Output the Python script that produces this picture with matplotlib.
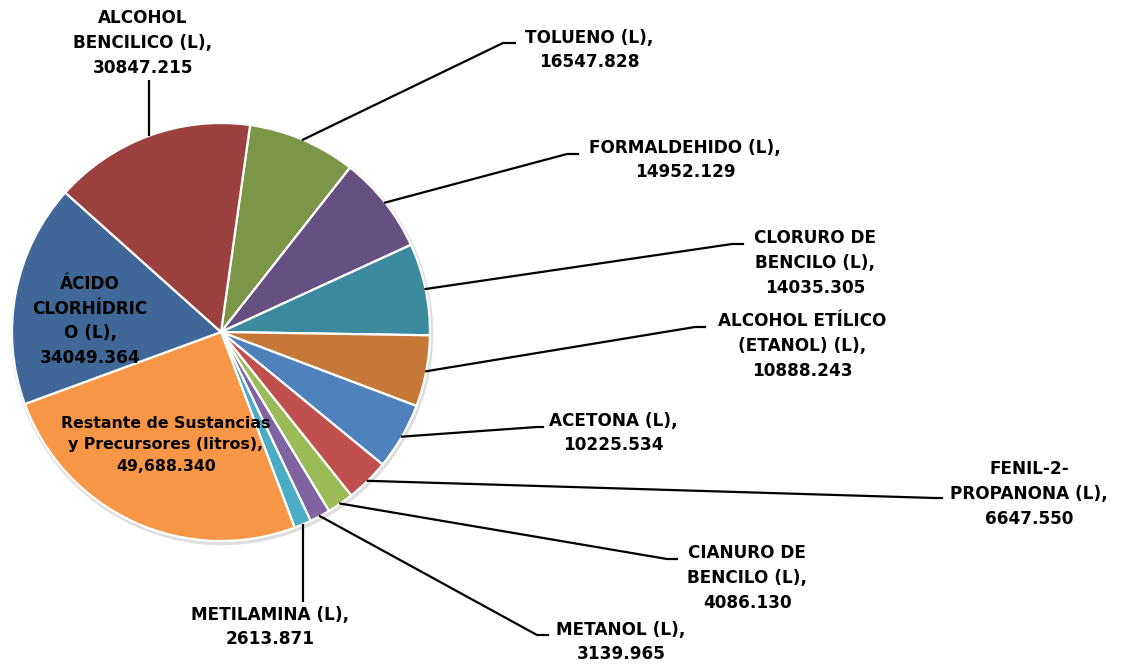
#!/usr/bin/env python3
"""
Pie chart of seized substances and precursors (litres), with outside labels and leader lines.
"""

import matplotlib
matplotlib.use("Agg")
import matplotlib.pyplot as plt
from matplotlib.patches import Circle
import numpy as np

# --- Data ---
names = [
    "TOLUENO (L),",
    "FORMALDEHIDO (L),",
    "CLORURO DE\nBENCILO (L),",
    "ALCOHOL ETÍLICO\n(ETANOL) (L),",
    "ACETONA (L),",
    "FENIL-2-\nPROPANONA (L),",
    "CIANURO DE\nBENCILO (L),",
    "METANOL (L),",
    "METILAMINA (L),",
    "Restante de Sustancias\ny Precursores (litros),",
    "ÁCIDO\nCLORHÍDRIC\nO (L),",
    "ALCOHOL\nBENCILICO (L),",
]
values = [16547.828, 14952.129, 14035.305, 10888.243, 10225.534, 6647.550,
          4086.130, 3139.965, 2613.871, 49688.340, 34049.364, 30847.215]
value_labels = ["16547.828", "14952.129", "14035.305", "10888.243", "10225.534",
                "6647.550", "4086.130", "3139.965", "2613.871", "49,688.340",
                "34049.364", "30847.215"]

colors = ["#7C9647", "#665082", "#3C8A9E", "#C67838", "#4F81BD", "#C0504D",
          "#9BBB59", "#8064A2", "#4BACC6", "#F79646", "#3F6797", "#9A403E"]

# --- Layout (pixel coords, y measured from top) ---
W, H = 1137, 665
CX, CY, R = 221, 332, 209
# label centre, elbow point, end of short horizontal tick (None = no elbow/label inside)
label_pos = [(589, 50), (685, 160), (815, 263), (802, 346), (613, 433), (1029, 494),
             (747, 578), (621, 642), (270, 627), (166, 445), (90, 321), (143, 43)]
elbows = [(503, 43), (567, 154), (732, 244), (695, 327), (537, 427), (935, 498),
          (667, 559), (537, 635), (None, 602), None, None, (None, 80)]
tick_len = [12, 11, 11, 10, 6, 7, 10, 11, 0, 0, 0, 0]


def py(y):
    return H - y


plt.rcParams['font.family'] = ['DejaVu Sans']

fig = plt.figure(figsize=(W / 100, H / 100), dpi=100)
ax = fig.add_axes([0, 0, 1, 1])

# faint shadow behind the pie
ax.add_patch(Circle((CX + 1, py(CY) - 2), R + 1.5, color='#dedede', zorder=0))

wedges, _ = ax.pie(values, colors=colors, startangle=82, counterclock=False,
                   center=(CX, py(CY)), radius=R, frame=True,
                   wedgeprops=dict(edgecolor='white', linewidth=1.6))
ax.set_xlim(0, W)
ax.set_ylim(0, H)
ax.set_aspect('equal')
ax.axis('off')

for i, w in enumerate(wedges):
    text = names[i] + "\n" + value_labels[i]
    lx, ly = label_pos[i]
    if i == 9:
        size, spacing = 11.3, 1.55
    else:
        size, spacing = 12.2, 1.47
    ax.text(lx, py(ly), text, ha='center', va='center', fontsize=size,
            fontweight='bold', linespacing=spacing, color='black', zorder=5)

    el = elbows[i]
    if el is None:
        continue
    mid = np.deg2rad((w.theta1 + w.theta2) / 2)
    sx = CX + R * np.cos(mid)
    sy = py(CY) + R * np.sin(mid)
    ex, ey = el
    if ex is None:
        # straight vertical leader
        ax.plot([sx, sx], [sy, py(ey)], color='black', lw=1.6, zorder=4,
                solid_capstyle='butt')
    else:
        ax.plot([sx, ex, ex + tick_len[i]], [sy, py(ey), py(ey)], color='black',
                lw=1.6, zorder=4, solid_joinstyle='miter')

fig.savefig("out.png", dpi=100)
